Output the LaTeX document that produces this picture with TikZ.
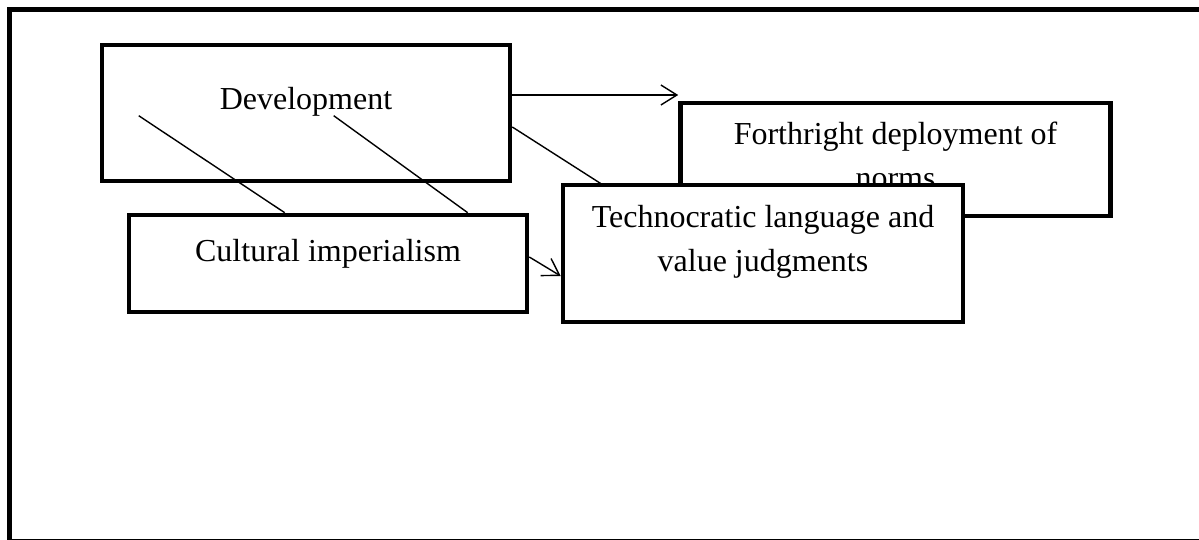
\documentclass[tikz,border=0pt]{standalone}
\usepackage{fontspec}
\setmainfont{Liberation Serif}
\usetikzlibrary{positioning,arrows.meta}
\tikzset{
  conceptbox/.style={draw,line width=2.3pt,fill=white,inner sep=0pt},
  boxtext/.style={font=\fontsize{16pt}{22pt}\selectfont,align=center,inner sep=0pt},
  link/.style={line width=0.7pt},
  >={Straight Barb[length=8pt,width=10pt]}
}

\begin{document}
\begin{tikzpicture}[x=0.5pt,y=-0.5pt]
  \useasboundingbox (0,0) rectangle (1199,540);
  \draw[line width=2.5pt] (9.5,9.5) rectangle (1206,541);
  \node[conceptbox,minimum width=204pt,minimum height=68pt] (dev) at (306,113) {};
  \node[boxtext,below=22pt of dev.north] (devtext) {Development};
  \node[conceptbox,minimum width=215pt,minimum height=56.5pt] (forth) at (895.5,159.5) {};
  \node[boxtext,below=10.5pt of forth.north] (forthtext) {Forthright deployment of\\norms};
  \node[conceptbox,minimum width=199pt,minimum height=48.5pt] (cult) at (328,263.5) {};
  \node[boxtext,below=13.2pt of cult.north] (culttext) {Cultural imperialism};
  \coordinate (devright) at ([yshift=9pt]dev.east);
  \draw[link,->] (devright) -- (devright -| forth.west);
  \draw[link] ([xshift=19.5pt,yshift=-36.5pt]dev.north west) -- ([xshift=79pt]cult.north west);
  \draw[link] ([xshift=117pt,yshift=-36.5pt]dev.north west) -- ([xshift=170.5pt]cult.north west);
  \draw[link] ([yshift=-7pt]dev.east) -- (603,185);
  \node[conceptbox,minimum width=200pt,minimum height=68.5pt] (tech) at (763,253.5) {};
  \node[boxtext,below=11pt of tech.north] (techtext) {Technocratic language and\\value judgments};
  \draw[link,->] ([yshift=3.25pt]cult.east) -- ([yshift=-11.25pt]tech.west);
\end{tikzpicture}
\end{document}
